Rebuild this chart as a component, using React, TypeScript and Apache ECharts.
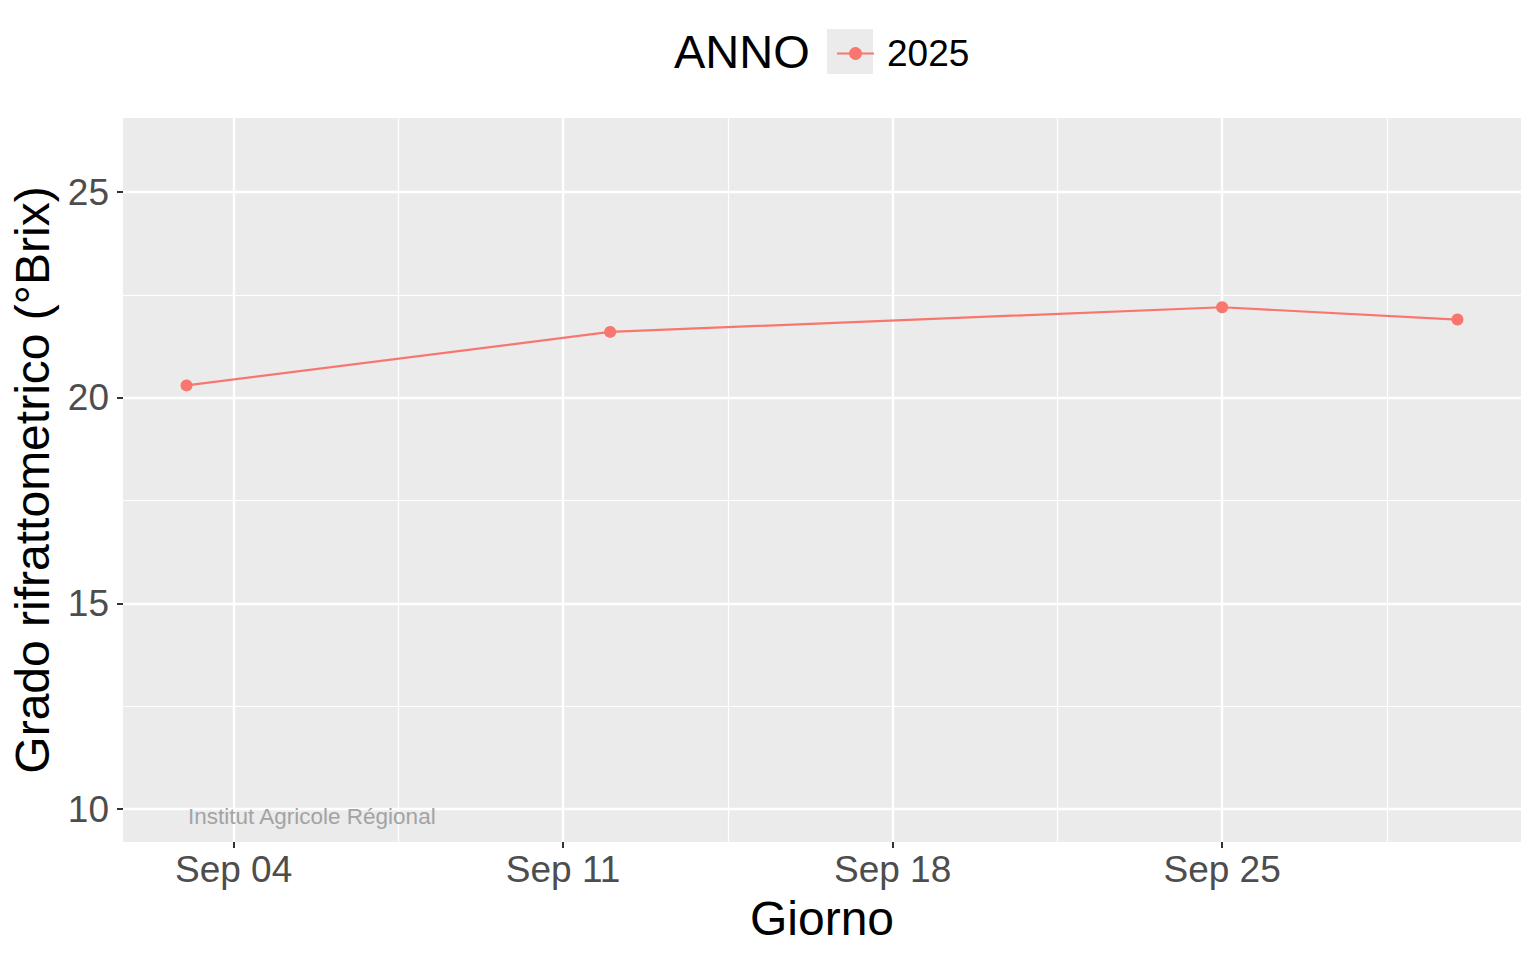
import { useEffect, useRef } from "react";
import * as echarts from "echarts";

// sampling dates and Brix readings (2025)
const dates = ["2025-09-03", "2025-09-12", "2025-09-25", "2025-09-30"];
const brix = [20.3, 21.6, 22.2, 21.9];
const seriesName = "2025";

const xTickDates = ["2025-09-04", "2025-09-11", "2025-09-18", "2025-09-25"];
const xMinorDates = ["2025-09-07T12:00", "2025-09-14T12:00", "2025-09-21T12:00", "2025-09-28T12:00"];
const yTicks = [10, 15, 20, 25];
const yMinorTicks = [12.5, 17.5, 22.5];

const MONTHS = ["Jan", "Feb", "Mar", "Apr", "May", "Jun", "Jul", "Aug", "Sep", "Oct", "Nov", "Dec"];

function toTime(s: string): number {
  const [d, t] = s.split("T");
  const [y, m, dd] = d.split("-").map(Number);
  let h = 0;
  if (t) h = Number(t.split(":")[0]);
  return Date.UTC(y, m - 1, dd, h);
}

function fmtDate(v: number): string {
  const d = new Date(v);
  return `${MONTHS[d.getUTCMonth()]} ${String(d.getUTCDate()).padStart(2, "0")}`;
}

const FONT = "'Liberation Sans', Arial, sans-serif";

export default function App() {
  const ref = useRef<HTMLDivElement | null>(null);

  useEffect(() => {
    const el = ref.current;
    if (!el) return;
    const chart = echarts.init(el, null, { renderer: "svg" });

    const times = dates.map(toTime);
    const tMin = Math.min(...times);
    const tMax = Math.max(...times);
    const xPad = (tMax - tMin) * 0.05;
    const xMin = tMin - xPad;
    const xMax = tMax + xPad;
    const yMin = 10 - 16 * 0.05;
    const yMax = 26 + 16 * 0.05;

    const majorX = xTickDates.map(toTime);
    const minorX = xMinorDates.map(toTime);

    chart.setOption({
      animation: false,
      backgroundColor: "#ffffff",
      textStyle: { fontFamily: FONT },
      grid: {
        left: 123,
        right: 15,
        top: 118,
        bottom: 118,
        show: true,
        backgroundColor: "#ebebeb",
        borderWidth: 0,
        outerBoundsMode: "none",
        containLabel: false,
      },
      legend: {
        data: [seriesName],
        left: 831,
        top: 30,
        itemWidth: 37,
        itemHeight: 16,
        itemGap: 10,
        lineStyle: { width: 2 },
        textStyle: { fontSize: 37, color: "#000000", fontFamily: FONT, padding: [0, 0, 0, 8] },
      },
      graphic: [
        {
          type: "rect",
          left: 827,
          top: 29,
          z: -1,
          shape: { width: 46, height: 45 },
          style: { fill: "#ebebeb" },
        },
        {
          type: "text",
          left: 674,
          top: 28,
          style: { text: "ANNO", fontSize: 47, fill: "#000000", fontFamily: FONT },
        },
        {
          type: "text",
          left: 188,
          top: 805,
          z: 10,
          style: { text: "Institut Agricole Régional", fontSize: 22.5, fill: "#a3a3a3", fontFamily: FONT },
        },
      ],
      xAxis: [
        {
          type: "value",
          min: xMin,
          max: xMax,
          name: "Giorno",
          nameLocation: "middle",
          nameGap: 52,
          nameTextStyle: { fontSize: 48, color: "#000000", fontFamily: FONT },
          axisLine: { show: false },
          axisTick: { show: true, length: 6, customValues: majorX, lineStyle: { color: "#333333", width: 2 } },
          axisLabel: {
            customValues: majorX,
            formatter: (v: number) => fmtDate(v),
            fontSize: 37,
            color: "#4d4d4d",
            margin: 9,
            fontFamily: FONT,
          },
          splitLine: { show: true, lineStyle: { color: "#ffffff", width: 2.4 } },
          z: 3,
        },
        {
          type: "value",
          min: xMin,
          max: xMax,
          position: "bottom",
          axisLine: { show: false },
          axisTick: { show: false, customValues: minorX },
          axisLabel: { show: false, customValues: minorX },
          splitLine: { show: true, lineStyle: { color: "#ffffff", width: 1.2 } },
          z: 2,
        },
      ],
      yAxis: [
        {
          type: "value",
          min: yMin,
          max: yMax,
          name: "Grado rifrattometrico (°Brix)",
          nameLocation: "middle",
          nameGap: 64,
          nameTextStyle: { fontSize: 48, color: "#000000", fontFamily: FONT },
          axisLine: { show: false },
          axisTick: { show: true, length: 6, customValues: yTicks, lineStyle: { color: "#333333", width: 2 } },
          axisLabel: { customValues: yTicks, fontSize: 37, color: "#4d4d4d", margin: 14, fontFamily: FONT },
          splitLine: { show: true, lineStyle: { color: "#ffffff", width: 2.4 } },
          z: 3,
        },
        {
          type: "value",
          min: yMin,
          max: yMax,
          position: "left",
          axisLine: { show: false },
          axisTick: { show: false, customValues: yMinorTicks },
          axisLabel: { show: false, customValues: yMinorTicks },
          splitLine: { show: true, lineStyle: { color: "#ffffff", width: 1.2 } },
          z: 2,
        },
      ],
      series: [
        {
          name: seriesName,
          type: "line",
          xAxisIndex: 0,
          yAxisIndex: 0,
          data: times.map((t, i) => [t, brix[i]]),
          symbol: "circle",
          symbolSize: 12,
          showSymbol: true,
          lineStyle: { color: "#F8766D", width: 2.2 },
          itemStyle: { color: "#F8766D" },
          z: 5,
        },
      ],
    });

    return () => chart.dispose();
  }, []);

  return <div ref={ref} style={{ width: 1536, height: 960, margin: -8 }} />;
}
